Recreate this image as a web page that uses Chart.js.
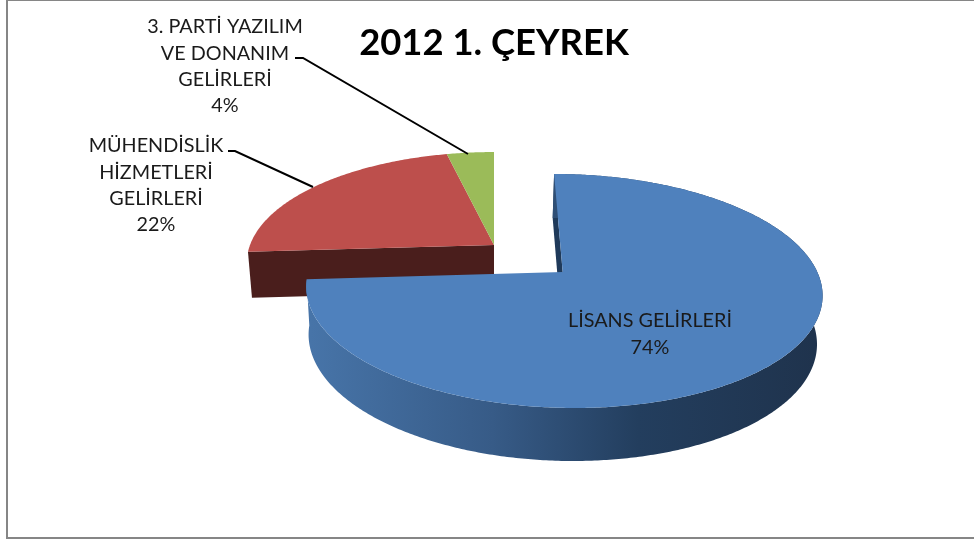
<!DOCTYPE html>
<html><head><meta charset="utf-8">
<script src="https://cdn.jsdelivr.net/npm/chart.js@4"></script>
<style>
html,body{margin:0;padding:0;background:#fff;overflow:hidden;width:974px;height:539px}
#frame{position:absolute;left:6px;top:0;width:968px;height:539px;box-sizing:border-box;border-left:2px solid #868686;border-top:1px solid #868686;border-bottom:2px solid #868686}
canvas{position:absolute;left:0;top:0}
</style></head><body>
<div id="frame"></div>
<canvas id="c" width="974" height="539"></canvas>
<script>
const chartTitle = '2012 1. ÇEYREK';
const categories = ['LİSANS GELİRLERİ', 'MÜHENDİSLİK HİZMETLERİ GELİRLERİ', '3. PARTİ YAZILIM VE DONANIM GELİRLERİ'];
const shares = [74, 22.4, 3.6];
const shareLabels = ['74%', '22%', '4%'];
const topColors = ['#4f81bd', '#bd4f4c', '#9bbb59'];
const FONT = 'Lato, Carlito, sans-serif';

// perspective of each pie piece, relative to the centre of the chart area: apex offset, half-axes, foreshortening, shear
const blueTop = {ax:-1.3, ay:-19, A:254.6, B:113.9, k:0.1624, s:10};
const blueBot = {ax:-3,   ay:27,  A:250,   B:117.7, k:0.177,  s:9.8};
const restTop = {ax:-70,  ay:-46, A:244,   B:108,   k:0.162,  s:0};
const restBot = {ax:-70,  ay:0,   A:240,   B:108,   k:0.165,  s:0};

const labelLayout = [
  {lines:['LİSANS GELİRLERİ', shareLabels[0]], x:650, y:321},
  {lines:['MÜHENDİSLİK','HİZMETLERİ','GELİRLERİ', shareLabels[1]], x:156, y:146},
  {lines:['3. PARTİ YAZILIM','VE DONANIM','GELİRLERİ', shareLabels[2]], x:225, y:27}
];
const leaders = [
  [[228,151],[235,151],[313,187]],
  [[295,58],[303,58],[468,154]]
];

function pt(p, c, angle){
  const th = angle + Math.PI/2, u = Math.sin(th), v = -Math.cos(th), w = 1 - p.k*v;
  return [c.x + p.ax + (p.A*u + p.s*v)/w, c.y + p.ay + p.B*v/w];
}
function arcPts(p, c, a0, a1){
  const n = Math.max(4, Math.ceil(Math.abs(a1-a0)/0.01)), out = [];
  for(let i=0;i<=n;i++) out.push(pt(p, c, a0+(a1-a0)*i/n));
  return out;
}
function poly(ctx, pts, fill){
  ctx.beginPath();
  pts.forEach((q,i)=> i? ctx.lineTo(q[0],q[1]) : ctx.moveTo(q[0],q[1]));
  ctx.closePath();
  ctx.fillStyle = fill; ctx.fill();
}

const pie3d = {
  id:'pie3d',
  afterLayout(chart){
    const t = chart.titleBlock; t.left -= 70; t.right -= 70;
  },
  beforeDatasetDraw(chart, args){
    const ctx = chart.ctx, arcs = chart.getDatasetMeta(args.index).data;
    const c = {x:arcs[0].x, y:arcs[0].y};
    const [blue, red, green] = arcs;
    const apex = (p)=>[c.x+p.ax, c.y+p.ay];

    // exploded red / green piece
    poly(ctx, [pt(restTop,c,red.startAngle), apex(restTop), apex(restBot), pt(restBot,c,red.startAngle)], '#4a1e1c');
    poly(ctx, [apex(restTop), ...arcPts(restTop,c,red.startAngle,red.endAngle)], topColors[1]);
    poly(ctx, [apex(restTop), ...arcPts(restTop,c,green.startAngle,green.endAngle)], topColors[2]);

    // blue piece: inner wall, rim, then top face
    poly(ctx, [pt(blueTop,c,blue.startAngle), pt(blueBot,c,blue.startAngle), apex(blueBot), apex(blueTop)], '#1f3a5a');
    const g = ctx.createLinearGradient(311,0,815,0);
    g.addColorStop(0,'#4774a8'); g.addColorStop(0.36,'#375b87');
    g.addColorStop(0.65,'#233e5e'); g.addColorStop(1,'#1f334d');
    poly(ctx, [...arcPts(blueTop,c,blue.startAngle,blue.endAngle), ...arcPts(blueBot,c,blue.endAngle,blue.startAngle)], g);
    poly(ctx, [apex(blueTop), ...arcPts(blueTop,c,blue.startAngle,blue.endAngle)], topColors[0]);
    return false;
  },
  afterDatasetsDraw(chart){
    const ctx = chart.ctx;
    ctx.save();
    ctx.strokeStyle = '#000'; ctx.lineWidth = 2;
    leaders.forEach(l=>{
      ctx.beginPath();
      l.forEach((q,i)=> i? ctx.lineTo(q[0],q[1]) : ctx.moveTo(q[0],q[1]));
      ctx.stroke();
    });
    ctx.font = '19.8px '+FONT; ctx.fillStyle = '#1a1a1a';
    ctx.textAlign = 'center'; ctx.textBaseline = 'middle';
    labelLayout.forEach(b=> b.lines.forEach((s,i)=> ctx.fillText(s, b.x, b.y + i*26.2)));
    ctx.restore();
  }
};

new Chart(document.getElementById('c'), {
  type:'pie',
  data:{labels:categories, datasets:[{data:shares, backgroundColor:topColors, borderWidth:0}]},
  options:{
    responsive:false, animation:false, events:[],
    layout:{padding:{left:306, right:152, top:0, bottom:131}},
    plugins:{
      legend:{display:false}, tooltip:{enabled:false},
      title:{display:true, text:chartTitle, color:'#000',
        font:{family:FONT, size:36.4, weight:'bold'},
        padding:{top:21, bottom:109.3}}
    }
  },
  plugins:[pie3d]
});
</script>
</body></html>
